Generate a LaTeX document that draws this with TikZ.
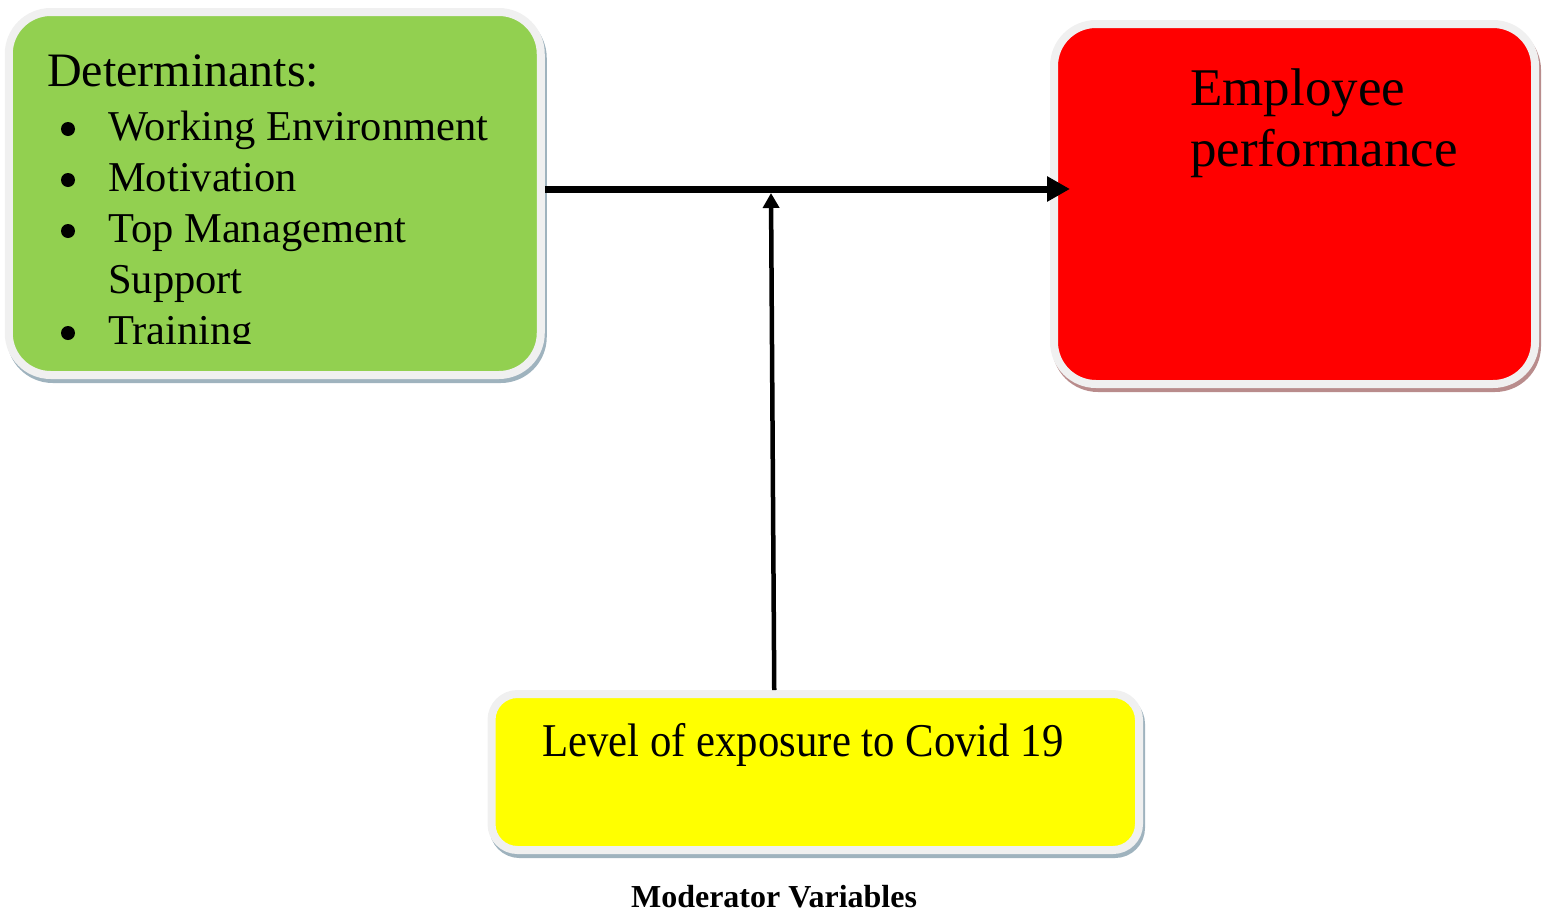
\documentclass[tikz,border=0pt]{standalone}
\usepackage{fontspec}
\setmainfont{Liberation Serif}
\usepackage{tikz}
\usetikzlibrary{arrows.meta,shadows}

\definecolor{detgreen}{HTML}{92D050}
\definecolor{perfred}{HTML}{FF0000}
\definecolor{modyellow}{HTML}{FFFF00}
\definecolor{boxrim}{HTML}{F0F0F0}
\definecolor{greyblue}{HTML}{9FB3BE}
\definecolor{greyred}{HTML}{B98C8C}

\begin{document}
\begin{tikzpicture}[x=1pt,y=-1pt]

\tikzset{Box/.style = {draw = boxrim, line width = 8pt, inner sep = 0pt},
         BoxShadow/.style = {general shadow = {fill = #1, draw = #1, line width = 8pt,
                                               shadow xshift = 2pt, shadow yshift = -4pt}},
         ItemText/.style = {anchor = base west, inner sep = 0pt,
                            font = \fontsize{42.5}{51}\selectfont},
         BulletDot/.style = {circle, fill = black, inner sep = 0pt, minimum size = 14pt},
         MainArrow/.style = {line width = 7pt, -{Triangle[length=23pt,width=24pt]}},
         ModArrow/.style = {line width = 4.5pt, -{Triangle[length=15pt,width=16pt]}}}

\useasboundingbox (0,0) rectangle (1544,913);

\node[Box, BoxShadow = greyblue, fill = detgreen, rounded corners = 42pt,
      minimum width = 532pt, minimum height = 363pt] (determinants) at (274.75,193.5) {};
\node[Box, BoxShadow = greyred, fill = perfred, rounded corners = 42pt,
      minimum width = 481pt, minimum height = 360pt] (performance) at (1294.5,204) {};
\node[Box, BoxShadow = greyblue, fill = modyellow, rounded corners = 26pt,
      minimum width = 647.5pt, minimum height = 156pt] (exposure) at (815.25,772) {};

\node[anchor = base west, inner sep = 0pt, font = \fontsize{48}{48}\selectfont]
      (dettitle) at (47,86) {Determinants:};

\begin{scope}
\clip (12,16) rectangle (537,343);
\node[BulletDot] (dot1) at (68,129) {};
\node[BulletDot] (dot2) at (68,180) {};
\node[BulletDot] (dot3) at (68,231) {};
\node[BulletDot] (dot4) at (68,333) {};
\node[ItemText] (item1) at (108,140) {Working Environment};
\node[ItemText] (item2) at (108,191) {Motivation};
\node[ItemText] (item3) at (108,242) {Top Management};
\node[ItemText] (item3b) at (108,293) {Support};
\node[ItemText] (item4) at (108,344) {Training};
\end{scope}

\node[anchor = base west, inner sep = 0pt, font = \fontsize{53}{53}\selectfont]
      (perfline1) at (1190,105) {Employee};
\node[anchor = base west, inner sep = 0pt, font = \fontsize{53}{53}\selectfont]
      (perfline2) at (1190,166) {performance};

\node[anchor = base west, inner sep = 0pt]
      (exptext) at (542,756) {\scalebox{0.91}[1]{\fontsize{47}{47}\selectfont Level of exposure to Covid 19}};

\node[anchor = base, inner sep = 0pt, font = \fontsize{32}{32}\selectfont\bfseries]
      (modlabel) at (774,907) {Moderator Variables};

\coordinate (join) at (771,189);

\draw[MainArrow, shorten >= -20pt] (determinants.east |- join) -- (performance.west |- join);
\draw[ModArrow] ([xshift=-41pt]exposure.north) -- ([yshift=-4pt]join);

\end{tikzpicture}
\end{document}
